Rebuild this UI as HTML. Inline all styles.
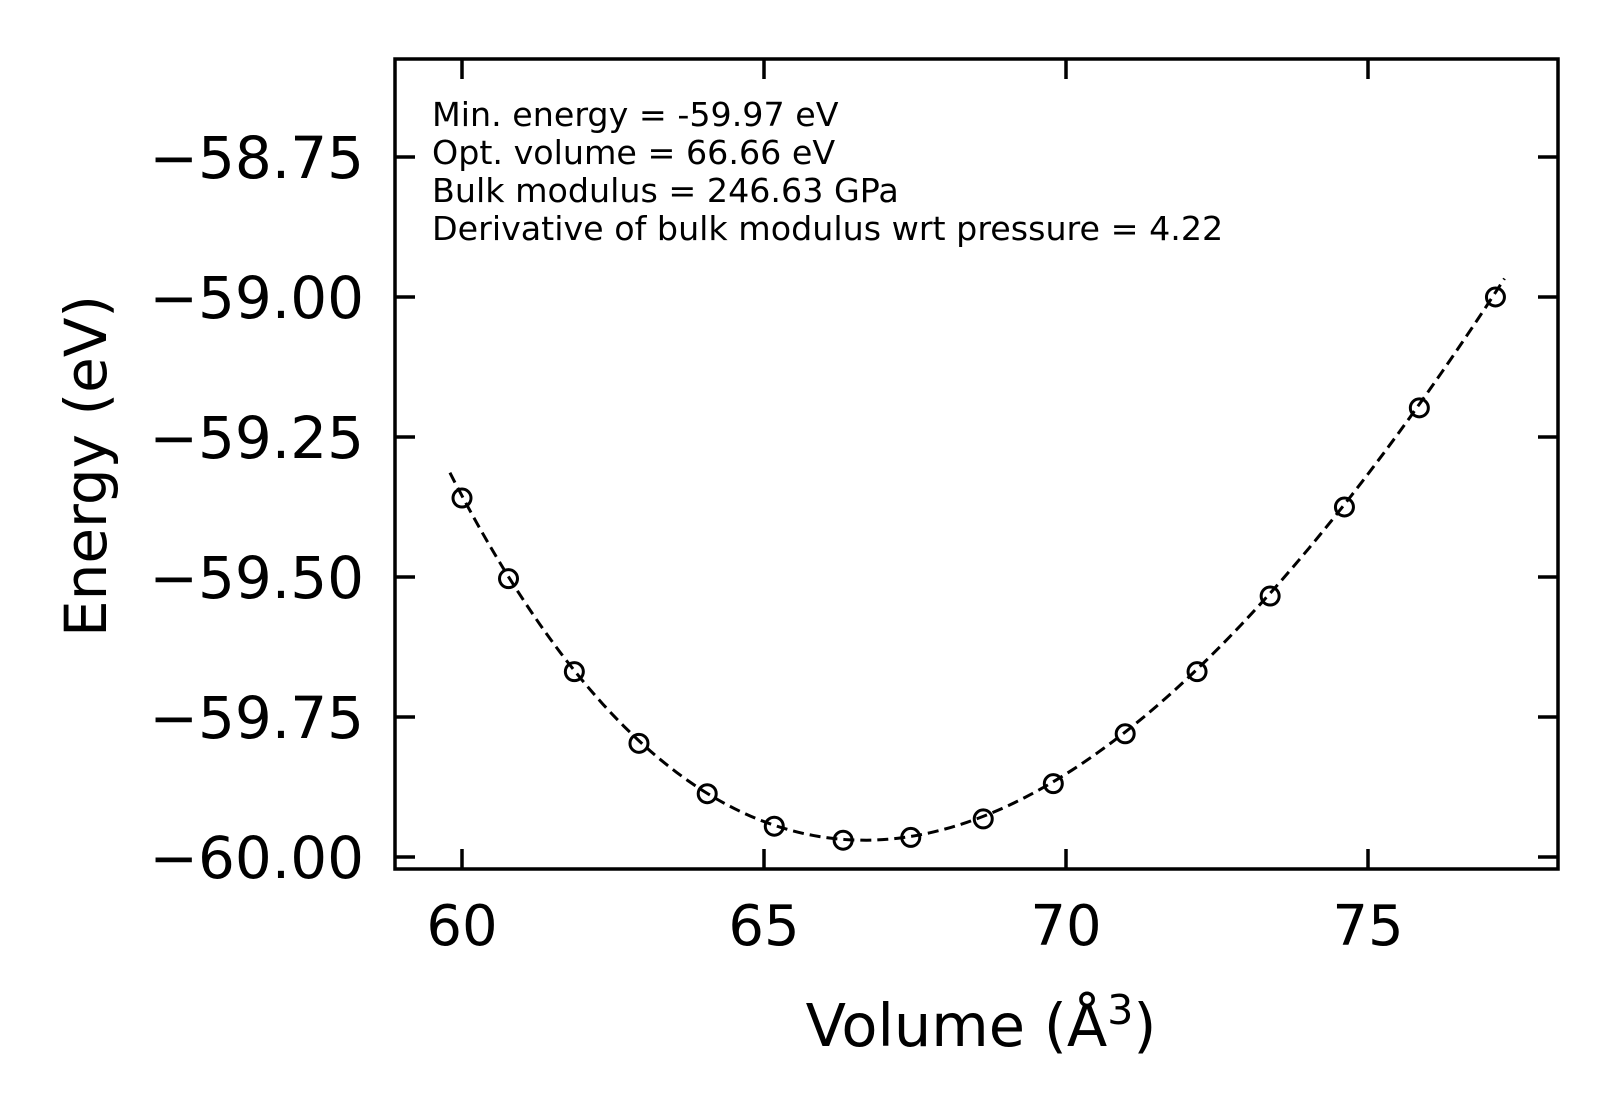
<!DOCTYPE html>
<html><head><meta charset="utf-8"><style>
html,body{margin:0;padding:0;background:#fff;}
svg text{font-family:"DejaVu Sans","Liberation Sans",sans-serif;fill:#000;}
</style></head><body>
<svg id="chart" width="1617" height="1114" viewBox="0 0 1617 1114" xmlns="http://www.w3.org/2000/svg">
<rect x="0" y="0" width="1617" height="1114" fill="#fff"/>
<g id="plot"></g>
<g font-size="33.3">
<text x="432" y="126">Min. energy = -59.97 eV</text>
<text x="432" y="164">Opt. volume = 66.66 eV</text>
<text x="432" y="202">Bulk modulus = 246.63 GPa</text>
<text x="432" y="240">Derivative of bulk modulus wrt pressure = 4.22</text>
</g>
<text x="981" y="1046" font-size="59" text-anchor="middle">Volume (Å<tspan font-size="41" dy="-22">3</tspan><tspan dy="22">)</tspan></text>
<text transform="translate(106,466) rotate(-90)" font-size="58" text-anchor="middle">Energy (eV)</text>
</svg>
<script>
const volumes=[60.0,60.77,61.86,62.93,64.06,65.17,66.31,67.43,68.63,69.79,70.98,72.17,73.38,74.61,75.85,77.11];
const energies=[-59.359,-59.503,-59.669,-59.797,-59.887,-59.945,-59.970,-59.965,-59.932,-59.869,-59.780,-59.669,-59.534,-59.375,-59.198,-59.000];
const fitParams=[-59.97,66.66,246.63,4.22]; // E0, V0, B (GPa), B'
const xTicks=[60,65,70,75];
const yTicks=[-58.75,-59.00,-59.25,-59.50,-59.75,-60.00];
const yTickLabels=["\u221258.75","\u221259.00","\u221259.25","\u221259.50","\u221259.75","\u221260.00"];

const L=395,R=1558,T=59,B=869;
const xs=v=>462+(v-60)*60.4;
const ys=e=>857-(e+60)*560;
const NS="http://www.w3.org/2000/svg";
const g=document.getElementById('plot');
function mk(t,a){const e=document.createElementNS(NS,t);for(const k in a)e.setAttribute(k,a[k]);return e;}

const [E0,V0,Bg,Bp]=fitParams;const Bv=Bg/160.21766;
function bm(V){const r=Math.pow(V0/V,2/3);const x=r-1;return E0+9*V0*Bv/16*(x*x*x*Bp+x*x*(6-4*r));}
const vmin=volumes[0]-0.2,vmax=volumes[volumes.length-1]+0.15;
let d="";for(let i=0;i<=200;i++){const v=vmin+(vmax-vmin)*i/200;d+=(i?"L":"M")+xs(v).toFixed(2)+","+ys(bm(v)).toFixed(2);}
const fit=mk('path',{d:d,fill:'none',stroke:'#000','stroke-width':3,'stroke-dasharray':'11,6'});


g.appendChild(fit);

volumes.forEach((v,i)=>{
 const c=mk('circle',{cx:xs(v),cy:ys(energies[i]),r:9,fill:'none',stroke:'#000','stroke-width':3});
 
 
 g.appendChild(c);
});

xTicks.forEach(t=>{
 const x=xs(t);
 const tb=mk('line',{x1:x,x2:x,y1:B,y2:B-20,stroke:'#000','stroke-width':3.5});
 
 
 g.appendChild(tb);
 const tt=mk('line',{x1:x,x2:x,y1:T,y2:T+20,stroke:'#000','stroke-width':3.5});
 
 
 g.appendChild(tt);
 const lb=mk('text',{x:x,y:945,'font-size':56,'text-anchor':'middle'});lb.textContent=String(t);
 
 
 g.appendChild(lb);
});
yTicks.forEach((t,i)=>{
 const y=ys(t);
 const tl=mk('line',{x1:L,x2:L+20,y1:y,y2:y,stroke:'#000','stroke-width':3.5});
 
 
 g.appendChild(tl);
 const tr=mk('line',{x1:R,x2:R-20,y1:y,y2:y,stroke:'#000','stroke-width':3.5});
 
 
 g.appendChild(tr);
 const lb=mk('text',{x:364,y:y+21,'font-size':58,'text-anchor':'end'});lb.textContent=yTickLabels[i];
 
 
 g.appendChild(lb);
});
const frame=mk('rect',{x:L,y:T,width:R-L,height:B-T,fill:'none',stroke:'#000','stroke-width':3.5});


g.appendChild(frame);
</script>
</body></html>
